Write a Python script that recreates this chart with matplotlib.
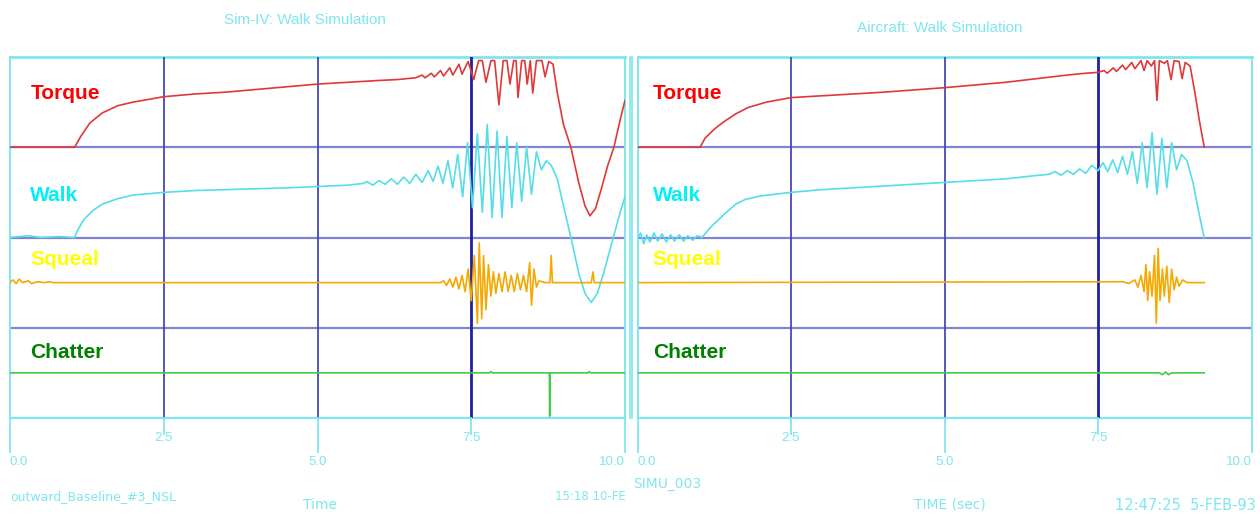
import matplotlib.pyplot as plt
from matplotlib.transforms import blended_transform_factory

# ---- data (offsets from each channel's baseline, 1 unit = one strip) ----
torque_L_t = [0, 1.05, 1.15, 1.3, 1.5, 1.75, 2.0, 2.5, 3.0, 3.5, 4.0, 4.5, 5.0, 5.5, 6.0, 6.3,
              6.6, 6.7, 6.75, 6.85, 6.9, 7.0, 7.05, 7.15, 7.2, 7.3, 7.35, 7.45, 7.54, 7.62, 7.68,
              7.74, 7.82, 7.88, 7.95, 8.02, 8.08, 8.13, 8.19, 8.23, 8.26, 8.32, 8.37, 8.41, 8.46,
              8.5, 8.56, 8.65, 8.7, 8.76, 8.83, 8.9, 9.0, 9.12, 9.25, 9.35, 9.43, 9.52, 9.62,
              9.72, 9.82, 9.92, 10.0]
torque_L = [0, 0, 0.12, 0.27, 0.38, 0.46, 0.50, 0.56, 0.59, 0.61, 0.64, 0.67, 0.70, 0.72, 0.74, 0.75,
            0.77, 0.80, 0.77, 0.82, 0.78, 0.85, 0.79, 0.88, 0.80, 0.92, 0.81, 0.95, 0.75, 0.96, 0.96,
            0.72, 0.96, 0.96, 0.47, 0.96, 0.96, 0.70, 0.96, 0.96, 0.55, 0.96, 0.96, 0.70, 0.96,
            0.60, 0.96, 0.96, 0.78, 0.95, 0.92, 0.60, 0.25, 0.0, -0.40, -0.65, -0.76, -0.68, -0.45,
            -0.20, 0.0, 0.30, 0.52]

walk_L_t = [0, 0.3, 0.5, 0.8, 1.05, 1.1, 1.2, 1.35, 1.5, 1.75, 2.0, 2.5, 3.0, 3.5, 4.0, 4.5, 5.0,
            5.5, 5.75, 5.8, 5.9, 6.0, 6.1, 6.2, 6.3, 6.4, 6.5, 6.6, 6.7, 6.8, 6.88, 6.96, 7.04,
            7.12, 7.2, 7.28, 7.36, 7.44, 7.52, 7.6, 7.68, 7.76, 7.84, 7.92, 8.0, 8.08, 8.16, 8.24,
            8.32, 8.4, 8.48, 8.56, 8.64, 8.72, 8.8, 8.9, 9.0, 9.12, 9.25, 9.35, 9.45, 9.55, 9.65,
            9.75, 9.85, 9.93, 10.0]
walk_L = [0, 0.02, 0, 0.01, 0, 0.08, 0.2, 0.3, 0.37, 0.43, 0.47, 0.50, 0.52, 0.53, 0.54, 0.55, 0.565,
          0.58, 0.60, 0.62, 0.58, 0.63, 0.59, 0.65, 0.59, 0.67, 0.60, 0.70, 0.61, 0.74, 0.62, 0.79, 0.60,
          0.85, 0.55, 0.92, 0.45, 1.05, 0.33, 1.15, 0.28, 1.25, 0.22, 1.18, 0.22, 1.12, 0.33, 1.05,
          0.40, 1.0, 0.48, 0.95, 0.75, 0.85, 0.80, 0.65, 0.35, 0.0, -0.40, -0.62, -0.72, -0.62, -0.40,
          -0.15, 0.10, 0.30, 0.45]

squeal_L_t = [0, 0.05, 0.1, 0.15, 0.2, 0.3, 0.35, 0.45, 0.55, 0.65, 0.7, 7.0, 7.05, 7.1, 7.15, 7.2,
              7.25, 7.3, 7.35, 7.4, 7.45, 7.5, 7.55, 7.6, 7.63, 7.67, 7.7, 7.74, 7.78, 7.82, 7.86,
              7.9, 7.95, 8.0, 8.05, 8.1, 8.15, 8.2, 8.25, 8.3, 8.35, 8.4, 8.45, 8.48, 8.52, 8.56,
              8.6, 8.7, 8.78, 8.8, 8.82, 9.45, 9.48, 9.5, 10.0]
squeal_L = [0, 0.03, -0.01, 0.04, 0, 0.02, -0.01, 0.01, 0, 0.01, 0, 0, 0.02, -0.03, 0.04, -0.05,
            0.06, -0.07, 0.08, -0.10, 0.15, -0.20, 0.30, -0.45, 0.44, -0.40, 0.30, -0.30, 0.20, -0.15,
            0.12, -0.12, 0.10, -0.10, 0.12, -0.10, 0.08, -0.10, 0.10, -0.08, 0.08, -0.10, 0.22, -0.25,
            0.15, -0.05, 0.02, 0, 0, 0.30, 0, 0, 0.12, 0, 0]

chatter_L_t = [0, 7.8, 7.82, 7.84, 8.77, 8.775, 8.785, 9.4, 9.42, 9.44, 10.0]
chatter_L = [0, 0, 0.015, 0, 0, -0.48, 0, 0, 0.015, 0, 0]

torque_R_t = [0, 1.02, 1.1, 1.25, 1.4, 1.6, 1.8, 2.1, 2.5, 3.0, 3.5, 4.0, 4.5, 5.0, 5.5, 6.0, 6.5,
              7.0, 7.3, 7.5, 7.6, 7.65, 7.75, 7.8, 7.9, 7.95, 8.05, 8.1, 8.2, 8.25, 8.3, 8.37, 8.42,
              8.46, 8.5, 8.58, 8.63, 8.69, 8.74, 8.82, 8.87, 8.92, 9.0, 9.08, 9.15, 9.23]
torque_R = [0, 0, 0.10, 0.20, 0.28, 0.37, 0.44, 0.50, 0.55, 0.57, 0.59, 0.61, 0.635, 0.66, 0.69,
            0.72, 0.76, 0.80, 0.82, 0.83, 0.85, 0.82, 0.88, 0.84, 0.91, 0.86, 0.94, 0.87, 0.96, 0.85,
            0.96, 0.90, 0.96, 0.52, 0.96, 0.93, 0.96, 0.75, 0.96, 0.95, 0.76, 0.94, 0.90, 0.60, 0.30, 0.0]

walk_R_t = [0, 0.05, 0.1, 0.15, 0.2, 0.27, 0.33, 0.4, 0.47, 0.54, 0.6, 0.68, 0.75, 0.82, 0.9, 0.97,
            1.05, 1.2, 1.4, 1.6, 1.75, 2.0, 2.5, 3.0, 3.5, 4.0, 4.5, 5.0, 5.5, 6.0, 6.4, 6.7, 6.8,
            6.9, 7.0, 7.1, 7.2, 7.3, 7.4, 7.5, 7.58, 7.66, 7.74, 7.82, 7.9, 7.98, 8.06, 8.14, 8.22,
            8.3, 8.38, 8.46, 8.54, 8.62, 8.7, 8.78, 8.86, 8.95, 9.05, 9.15, 9.23]
walk_R = [-0.01, 0.05, -0.07, 0.03, -0.05, 0.05, -0.04, 0.04, -0.05, 0.03, -0.04, 0.03, -0.04, 0.02,
          -0.03, 0.02, 0, 0.12, 0.25, 0.37, 0.42, 0.46, 0.50, 0.53, 0.55, 0.57, 0.59, 0.61, 0.63, 0.65,
          0.68, 0.70, 0.73, 0.69, 0.74, 0.70, 0.76, 0.71, 0.80, 0.74, 0.83, 0.73, 0.86, 0.72, 0.90,
          0.70, 0.95, 0.60, 1.05, 0.55, 1.16, 0.48, 1.10, 0.55, 1.05, 0.75, 0.92, 0.85, 0.60, 0.25, 0.0]

squeal_R_t = [0, 7.9, 8.0, 8.1, 8.15, 8.2, 8.25, 8.28, 8.31, 8.34, 8.38, 8.42, 8.45, 8.48, 8.51,
              8.55, 8.58, 8.62, 8.66, 8.7, 8.74, 8.78, 8.82, 8.88, 8.95, 9.23]
squeal_R = [0, 0.01, -0.01, 0.03, -0.05, 0.08, -0.10, 0.20, -0.20, 0.12, -0.15, 0.30, -0.45, 0.38,
            -0.20, 0.15, -0.15, 0.18, -0.22, 0.15, -0.08, 0.06, -0.04, 0.03, 0, 0]

chatter_R_t = [0, 8.5, 8.55, 8.6, 8.65, 8.7, 9.23]
chatter_R = [0, 0, -0.02, 0.01, -0.02, 0, 0]

channels = ['Torque', 'Walk', 'Squeal', 'Chatter']
baselines = [3.0, 2.0, 1.5, 0.5]
label_y = [3.60, 2.47, 1.76, 0.73]
label_colors = ['#ff0000', '#00f0f8', '#ffff00', '#008000']
trace_colors = ['#e03838', '#55dde8', '#f5a800', '#44cc44']
xticks = [0.0, 2.5, 5.0, 7.5, 10.0]
xtick_labels = ['0.0', '2.5', '5.0', '7.5', '10.0']

CYAN = '#7fe6f0'
BLUE = '#5a5ac8'

fig = plt.figure(figsize=(12.6, 5.19), dpi=100)
fig.patch.set_facecolor('white')

panels = [
    dict(rect=[10 / 1260, 101 / 519, 615 / 1260, 361 / 519],
         traces=[(torque_L_t, torque_L), (walk_L_t, walk_L), (squeal_L_t, squeal_L), (chatter_L_t, chatter_L)],
         title='Sim-IV: Walk Simulation', title_xy=(305 / 1260, 1 - 20 / 519),
         extra_v=[10.08], label_x=0.33, first_ha='left', last_ha='right'),
    dict(rect=[637.5 / 1260, 101 / 519, 614 / 1260, 361 / 519],
         traces=[(torque_R_t, torque_R), (walk_R_t, walk_R), (squeal_R_t, squeal_R), (chatter_R_t, chatter_R)],
         title='Aircraft: Walk Simulation', title_xy=(940 / 1260, 1 - 28 / 519),
         extra_v=[-0.09], label_x=0.25, first_ha='left', last_ha='right'),
]

for p in panels:
    ax = fig.add_axes(p['rect'])
    ax.set_xlim(0, 10)
    ax.set_ylim(0, 4)
    ax.axis('off')

    # strip separators
    for yy in [1, 2, 3]:
        ax.axhline(yy, color=BLUE, lw=1.6, alpha=0.75, zorder=1)
    ax.axhline(4, color=CYAN, lw=2.0, zorder=1, clip_on=False)
    ax.axhline(0, color=CYAN, lw=1.6, zorder=1, clip_on=False)

    # vertical grid
    ax.axvline(2.5, color='#4848b8', lw=1.3, zorder=1)
    ax.axvline(5.0, color='#4848b8', lw=1.3, zorder=1)
    ax.axvline(7.5, color='#20209e', lw=2.0, zorder=1)
    ax.axvline(0.0, color=CYAN, lw=1.4, zorder=1, clip_on=False)
    ax.axvline(10.0, color=CYAN, lw=1.4, zorder=1, clip_on=False)
    for xv in p['extra_v']:
        ax.axvline(xv, color=CYAN, lw=1.2, zorder=1, clip_on=False)

    # traces
    for (t, v), base, c in zip(p['traces'], baselines, trace_colors):
        ax.plot(t, [base + d for d in v], color=c, lw=1.2, zorder=3)

    # channel labels
    for name, ly, lc in zip(channels, label_y, label_colors):
        ax.text(p['label_x'], ly, name, color=lc, fontsize=15, fontweight='bold',
                family='Liberation Sans', va='center', ha='left', zorder=4)

    # staggered tick marks and labels below the plot
    trans = blended_transform_factory(ax.transData, ax.transAxes)
    for i, (xt, lab) in enumerate(zip(xticks, xtick_labels)):
        low = i % 2 == 1
        ax.plot([xt, xt], [0, -0.045 if low else -0.095], color=CYAN, lw=1.3,
                transform=trans, clip_on=False)
        ha = 'center'
        if i == 0:
            ha = p['first_ha']
        elif i == len(xticks) - 1:
            ha = p['last_ha']
        ax.text(xt, -0.055 if low else -0.122, lab, color=CYAN, fontsize=9.5,
                ha=ha, va='center', transform=trans, family='Liberation Sans')

    fig.text(p['title_xy'][0], p['title_xy'][1], p['title'], color=CYAN, fontsize=11,
             ha='center', va='center', family='Liberation Sans')

# footer text
fig.text(320 / 1260, 1 - 505 / 519, 'Time', color=CYAN, fontsize=10, ha='center', va='center')
fig.text(950 / 1260, 1 - 505 / 519, 'TIME (sec)', color=CYAN, fontsize=10, ha='center', va='center')
fig.text(10 / 1260, 1 - 497 / 519, 'outward_Baseline_#3_NSL', color=CYAN, fontsize=9,
         ha='left', va='center')
fig.text(555 / 1260, 1 - 497 / 519, '15:18 10-FE', color=CYAN, fontsize=8.5, ha='left', va='center')
fig.text(633 / 1260, 1 - 484 / 519, 'SIMU_003', color=CYAN, fontsize=10, ha='left', va='center')
fig.text(1256 / 1260, 1 - 505 / 519, '12:47:25  5-FEB-93', color=CYAN, fontsize=10.5,
         ha='right', va='center')

fig.savefig('out.png', dpi=100, facecolor='white')
